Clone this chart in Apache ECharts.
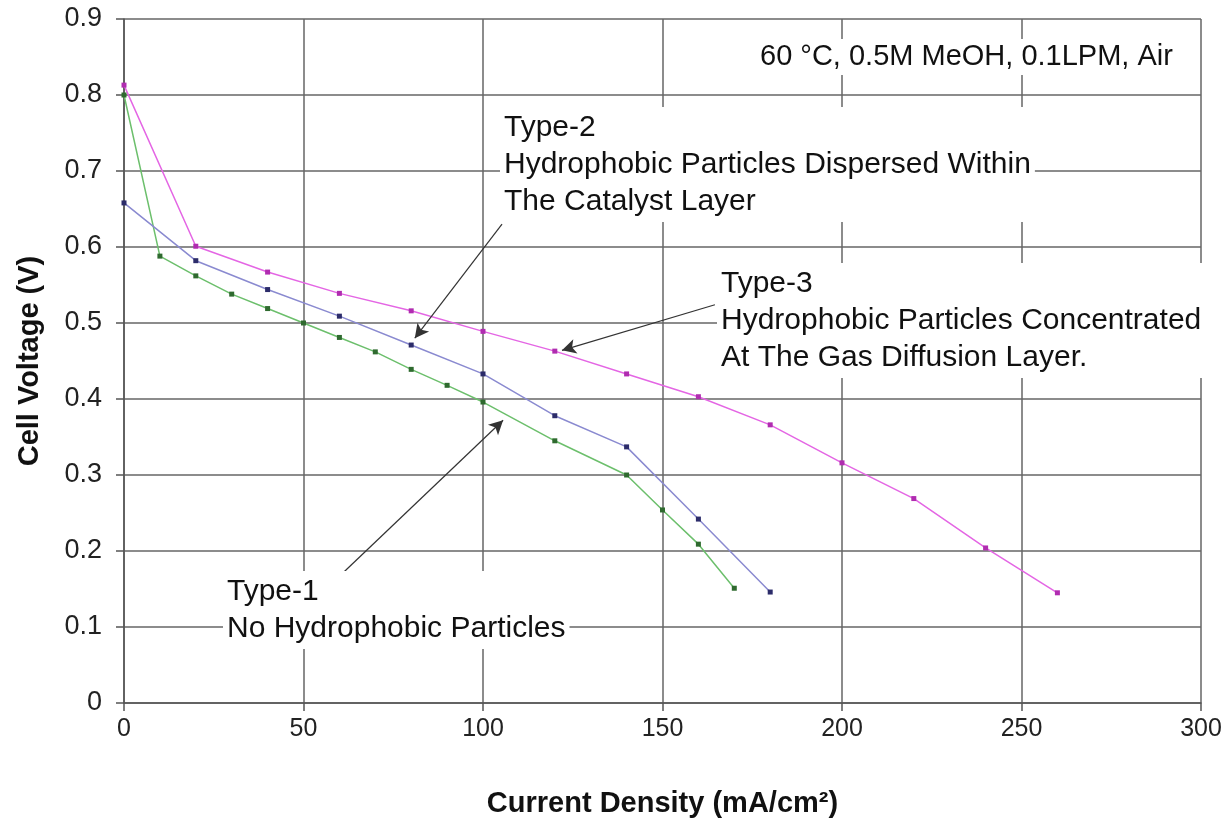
<!DOCTYPE html>
<html>
<head>
<meta charset="utf-8">
<script src="https://cdn.jsdelivr.net/npm/echarts@6/dist/echarts.min.js"></script>
<style>
  html, body { margin: 0; padding: 0; background: #fff; }
  #main { width: 1229px; height: 823px; }
</style>
</head>
<body>
<div id="main"></div>
<script>
// data
const type1X = [0, 10, 20, 30, 40, 50, 60, 70, 80, 90, 100, 120, 140, 150, 160, 170]
const type1Y = [0.80, 0.588, 0.562, 0.538, 0.519, 0.50, 0.481, 0.462, 0.439, 0.418, 0.396, 0.345, 0.30, 0.254, 0.209, 0.151]

const type2X = [0, 20, 40, 60, 80, 100, 120, 140, 160, 180]
const type2Y = [0.658, 0.582, 0.544, 0.509, 0.471, 0.433, 0.378, 0.337, 0.242, 0.146]

const type3X = [0, 20, 40, 60, 80, 100, 120, 140, 160, 180, 200, 220, 240, 260]
const type3Y = [0.813, 0.601, 0.567, 0.539, 0.516, 0.489, 0.463, 0.433, 0.403, 0.366, 0.316, 0.269, 0.204, 0.145]

const yTicks = [0, 0.1, 0.2, 0.3, 0.4, 0.5, 0.6, 0.7, 0.8, 0.9]

// annotation arrows, [from, to] in data units
const arrows = [
  [[105.3, 0.630], [81.0, 0.480]],
  [[164.6, 0.524], [122.0, 0.464]],
  [[56.5, 0.151], [105.6, 0.372]]
]

const pair = (xs, ys) => xs.map((x, i) => [x, ys[i]])
const font = 'Liberation Sans, Arial, sans-serif'

const myChart = echarts.init(document.getElementById('main'))

function note (text, x, y) {
  return {
    type: 'text',
    left: x,
    top: y,
    z: 50,
    style: {
      text: text,
      font: '30px ' + font,
      fill: '#111',
      lineHeight: 37,
      backgroundColor: '#fff',
      padding: [2, 4]
    }
  }
}

myChart.setOption({
  animation: false,
  backgroundColor: '#fff',
  grid: { left: 124, right: 28, top: 19, bottom: 120 },
  xAxis: {
    type: 'value',
    min: 0,
    max: 300,
    interval: 50,
    name: 'Current Density (mA/cm²)',
    nameLocation: 'middle',
    nameGap: 86,
    nameTextStyle: { fontFamily: font, fontSize: 29, fontWeight: 'bold', color: '#111' },
    axisLine: { show: true, lineStyle: { color: '#555', width: 1.5 } },
    axisTick: { show: true, length: 8, lineStyle: { color: '#555', width: 1.5 } },
    axisLabel: { fontFamily: font, fontSize: 25, color: '#222', margin: 14 },
    splitLine: { show: true, lineStyle: { color: '#666', width: 1.5 } }
  },
  yAxis: {
    type: 'value',
    min: 0,
    max: 0.9,
    interval: 0.1,
    name: 'Cell Voltage (V)',
    nameLocation: 'middle',
    nameGap: 80,
    nameTextStyle: { fontFamily: font, fontSize: 29, fontWeight: 'bold', color: '#111' },
    axisLine: { show: true, lineStyle: { color: '#555', width: 1.5 } },
    axisTick: { show: true, length: 8, lineStyle: { color: '#555', width: 1.5 } },
    axisLabel: {
      fontFamily: font,
      fontSize: 27,
      color: '#222',
      margin: 22,
      formatter: v => yTicks.includes(Math.round(v * 10) / 10) ? String(Math.round(v * 10) / 10) : ''
    },
    splitLine: { show: true, lineStyle: { color: '#666', width: 1.5 } }
  },
  series: [
    {
      name: 'Type-1',
      type: 'line',
      data: pair(type1X, type1Y),
      symbol: 'rect',
      symbolSize: 5,
      lineStyle: { color: '#6cbf6c', width: 1.5 },
      itemStyle: { color: '#2f6a2f' },
      z: 3
    },
    {
      name: 'Type-2',
      type: 'line',
      data: pair(type2X, type2Y),
      symbol: 'rect',
      symbolSize: 5,
      lineStyle: { color: '#8a8ad0', width: 1.5 },
      itemStyle: { color: '#2c2c6a' },
      z: 3
    },
    {
      name: 'Type-3',
      type: 'line',
      data: pair(type3X, type3Y),
      symbol: 'rect',
      symbolSize: 5,
      lineStyle: { color: '#e466e4', width: 1.5 },
      itemStyle: { color: '#b02cb0' },
      z: 3,
      markLine: {
        silent: true,
        symbol: ['none', 'arrow'],
        symbolSize: [11, 14],
        label: { show: false },
        lineStyle: { color: '#333', width: 1.2, type: 'solid' },
        data: arrows.map(a => [{ coord: a[0] }, { coord: a[1] }])
      }
    }
  ],
  graphic: [
    note('Type-2\nHydrophobic Particles Dispersed Within\nThe Catalyst Layer', 500, 107),
    note('Type-3\nHydrophobic Particles Concentrated\nAt The Gas Diffusion Layer.', 717, 263),
    note('Type-1\nNo Hydrophobic Particles', 223, 571),
    {
      type: 'text',
      left: 756,
      top: 39,
      z: 50,
      style: {
        text: '60 °C, 0.5M MeOH, 0.1LPM, Air',
        font: '29px ' + font,
        fill: '#111',
        lineHeight: 32,
        backgroundColor: '#fff',
        padding: [2, 4]
      }
    }
  ]
})
</script>
</body>
</html>
